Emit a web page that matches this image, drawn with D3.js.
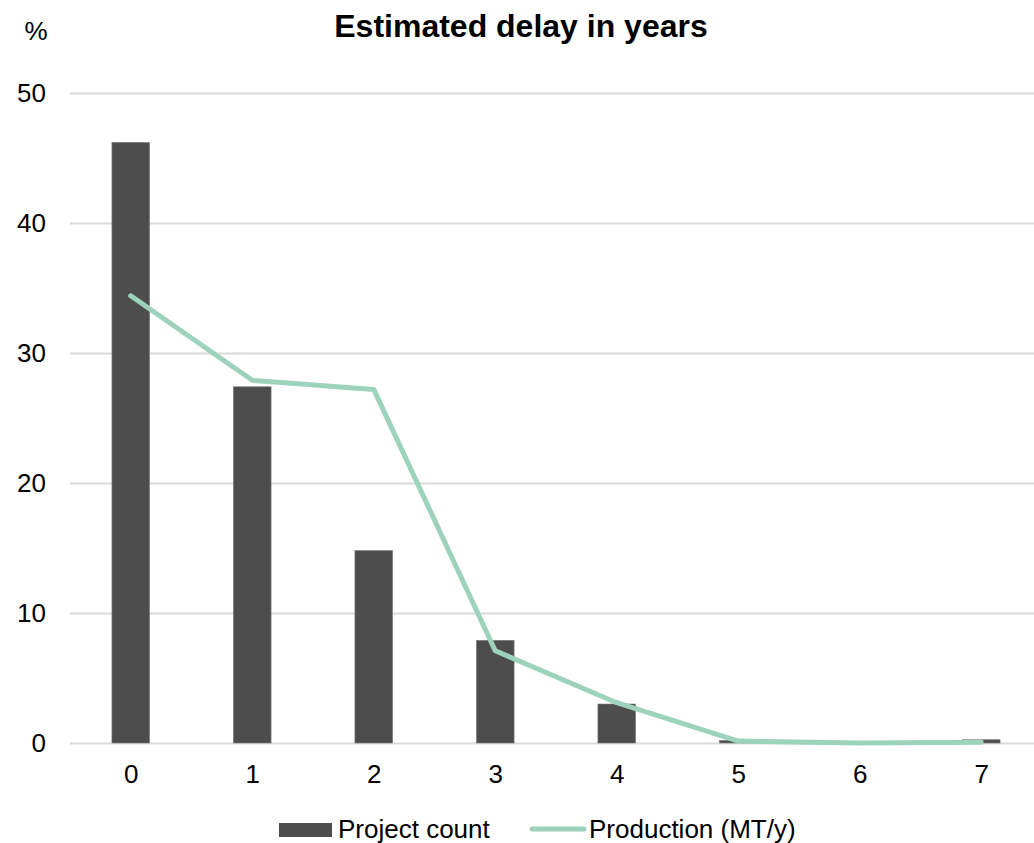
<!DOCTYPE html>
<html>
<head>
<meta charset="utf-8">
<script src="https://cdn.jsdelivr.net/npm/d3@7"></script>
<style>
  body { margin: 0; background: #fff; }
  text { font-family: "Liberation Sans", Arial, sans-serif; fill: #000; }
</style>
</head>
<body>
<div id="chart"></div>
<script>
// data
const years = ['0', '1', '2', '3', '4', '5', '6', '7']
const projectCount = [46.2, 27.4, 14.8, 7.9, 3.0, 0.2, 0, 0.25]
const production = [34.4, 27.9, 27.2, 7.1, 3.1, 0.15, 0.0, 0.05]
const yTicks = [0, 10, 20, 30, 40, 50]

const width = 1034
const height = 843
const margin = {top: 93, right: -8, bottom: 100, left: 70}

const svg = d3.select('#chart').append('svg')
  .attr('width', width)
  .attr('height', height)

const x = d3.scaleBand()
  .domain(years)
  .range([margin.left, width - margin.right])
  .paddingInner(0.69)
  .paddingOuter(0.345)

const xPoint = d3.scalePoint()
  .domain(years)
  .range([x(years[0]) + x.bandwidth() / 2, x(years[years.length - 1]) + x.bandwidth() / 2])

const y = d3.scaleLinear()
  .domain([0, 50])
  .range([height - margin.bottom, margin.top])

// gridlines + y labels
const yAxis = d3.axisLeft(y)
  .tickValues(yTicks)
  .tickSize(-(width - margin.left))
  .tickPadding(24)

svg.append('g')
  .attr('transform', `translate(${margin.left},0)`)
  .call(yAxis)
  .call(g => g.select('.domain').remove())
  .call(g => g.selectAll('.tick line').attr('stroke', '#d9d9d9').attr('stroke-width', 2))
  .call(g => g.selectAll('.tick text')
    .attr('font-size', 26)
    .attr('fill', '#000'))

// x labels
const xAxis = d3.axisBottom(xPoint).tickSize(0).tickPadding(22)
svg.append('g')
  .attr('transform', `translate(0,${y(0)})`)
  .call(xAxis)
  .call(g => g.select('.domain').remove())
  .call(g => g.selectAll('.tick text')
    .attr('font-size', 26)
    .attr('fill', '#000'))

// bars
svg.append('g')
  .selectAll('rect')
  .data(projectCount)
  .enter()
  .append('rect')
  .attr('x', (d, i) => x(years[i]))
  .attr('width', x.bandwidth())
  .attr('y', d => y(d))
  .attr('height', d => y(0) - y(d))
  .attr('fill', '#4d4d4d')
  .attr('stroke', '#7a7a7a')
  .attr('stroke-width', 0.6)

// production line
const line = d3.line()
  .x((d, i) => xPoint(years[i]))
  .y(d => y(d))

svg.append('path')
  .datum(production)
  .attr('d', line)
  .attr('fill', 'none')
  .attr('stroke', '#9dd3bd')
  .attr('stroke-width', 5)
  .attr('stroke-linecap', 'round')
  .attr('stroke-linejoin', 'round')

// title + unit
svg.append('text')
  .attr('x', 521)
  .attr('y', 37)
  .attr('text-anchor', 'middle')
  .attr('font-size', 32)
  .attr('font-weight', 'bold')
  .text('Estimated delay in years')

svg.append('text')
  .attr('x', 36)
  .attr('y', 40)
  .attr('text-anchor', 'middle')
  .attr('font-size', 26)
  .text('%')

// legend
const legend = svg.append('g').attr('transform', 'translate(0,829)')
legend.append('rect')
  .attr('x', 279).attr('y', -6)
  .attr('width', 53).attr('height', 14)
  .attr('fill', '#4d4d4d')
legend.append('text')
  .attr('x', 338).attr('y', 9)
  .attr('font-size', 26)
  .text('Project count')
legend.append('line')
  .attr('x1', 532).attr('x2', 584)
  .attr('y1', 0).attr('y2', 0)
  .attr('stroke', '#9dd3bd')
  .attr('stroke-width', 5)
  .attr('stroke-linecap', 'round')
legend.append('text')
  .attr('x', 589).attr('y', 9)
  .attr('font-size', 26)
  .text('Production (MT/y)')
</script>
</body>
</html>
